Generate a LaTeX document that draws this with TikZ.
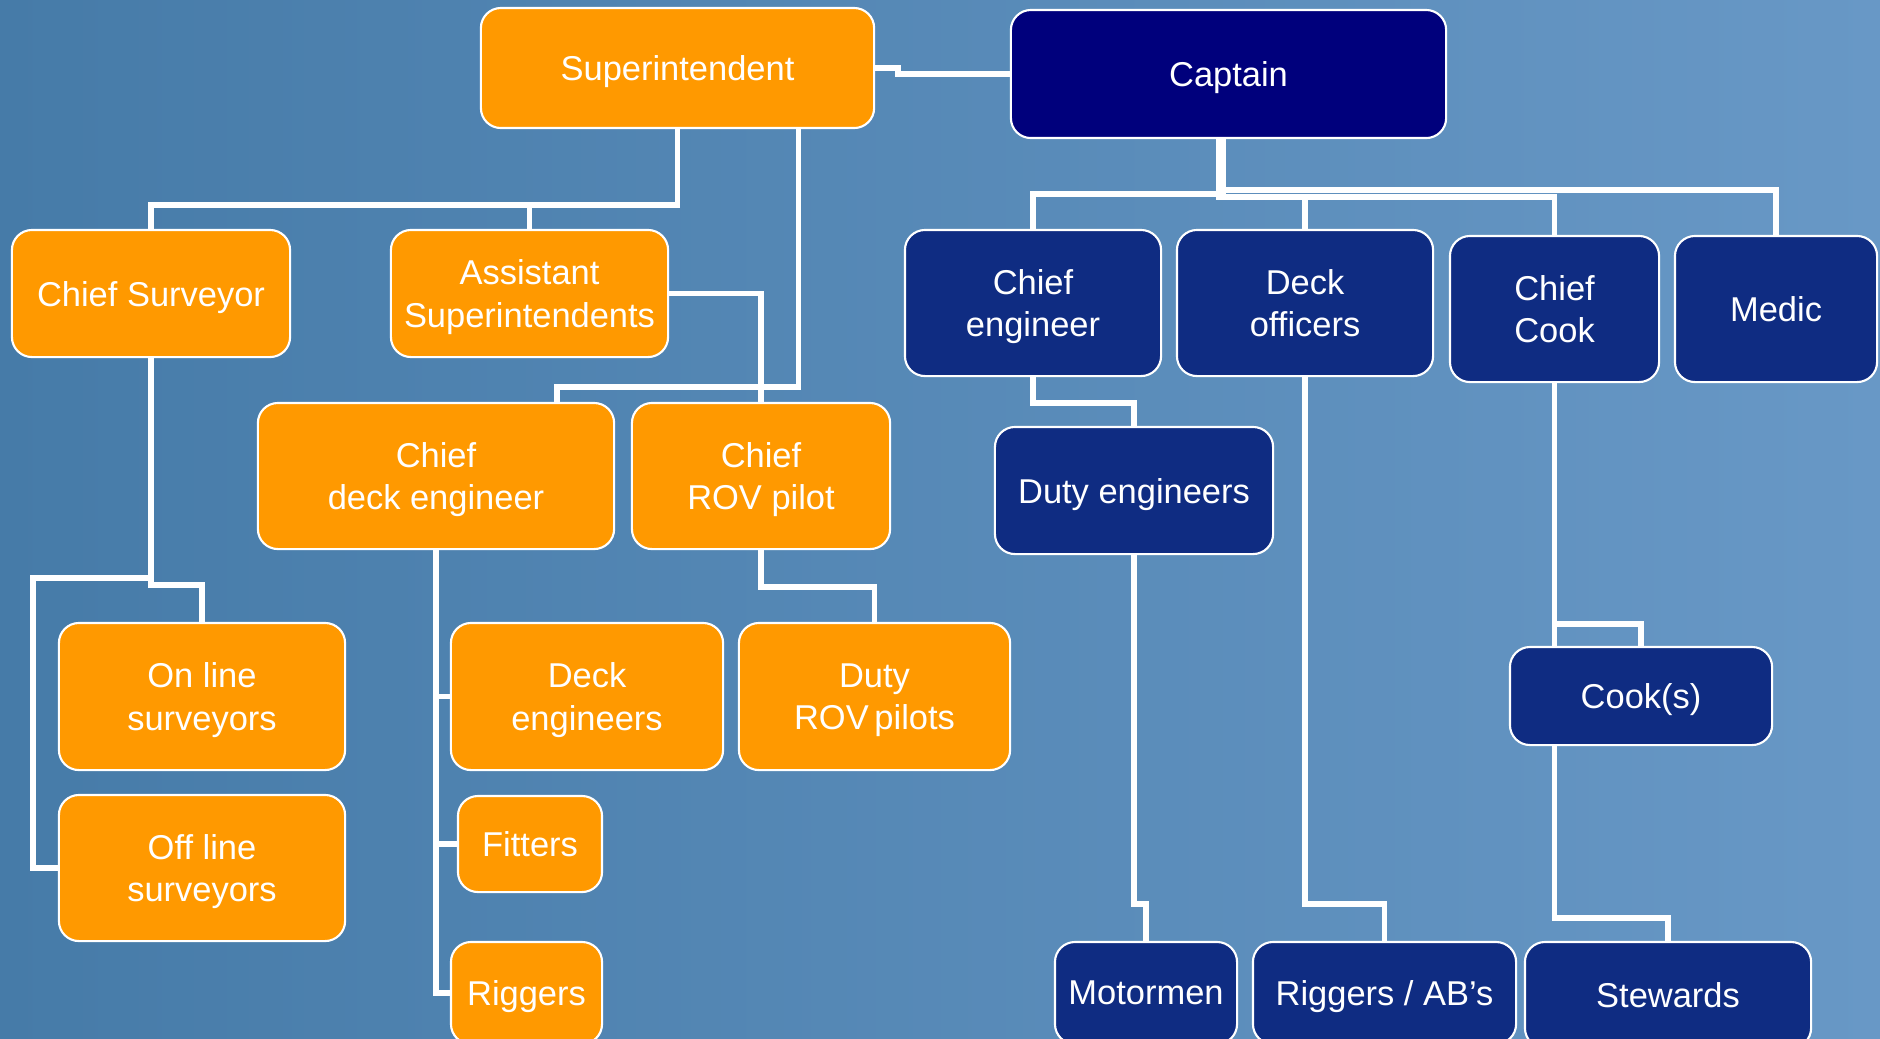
\documentclass[tikz,border=0pt]{standalone}
\usepackage{fontspec}
\setmainfont{Liberation Sans}
\usetikzlibrary{calc}
\definecolor{boxorange}{RGB}{255,153,0}
\definecolor{capnavy}{RGB}{0,0,124}
\definecolor{boxnavy}{RGB}{15,44,130}
\definecolor{seadark}{RGB}{70,123,168}
\definecolor{sealight}{RGB}{104,152,198}
\tikzset{
  post/.style={draw=white, line width=0.6pt, rounded corners=0.2cm, text=white,
    align=center, inner sep=0pt, text depth=-0.6pt, font=\fontsize{9.8}{12}\selectfont},
  shore/.style={post, fill=boxorange},
  crew/.style={post, fill=boxnavy},
  link/.style={draw=white, line width=1.6pt},
}

\begin{document}
\begin{tikzpicture}[x=0.01cm, y=-0.01cm]
\useasboundingbox (0,0) rectangle (1880,1038);
\clip (0,0) rectangle (1880,1038);
\shade[left color=seadark, right color=sealight] (0,0) rectangle (1880,1038);

% shore side
\node[shore, minimum width=3.93cm, minimum height=1.2cm] (sup) at (677.5,68) {Superintendent};
\node[shore, minimum width=2.78cm, minimum height=1.27cm] (cs) at (151,293.5) {Chief Surveyor};
\node[shore, minimum width=2.77cm, minimum height=1.27cm] (as) at (529.5,293.5) {Assistant\\Superintendents};
\node[shore, minimum width=3.56cm, minimum height=1.46cm] (cde) at (436,476) {Chief\\deck engineer};
\node[shore, minimum width=2.58cm, minimum height=1.46cm] (crp) at (761,476) {Chief\\ROV pilot};
\node[shore, minimum width=2.86cm, minimum height=1.47cm] (ons) at (202,696.5) {On line\\surveyors};
\node[shore, minimum width=2.86cm, minimum height=1.46cm] (ofs) at (202,868) {Off line\\surveyors};
\node[shore, minimum width=2.72cm, minimum height=1.47cm] (de) at (587,696.5) {Deck\\engineers};
\node[shore, minimum width=2.71cm, minimum height=1.47cm] (drp) at (874.5,696.5) {Duty\\ROV\,pilots};
\node[shore, minimum width=1.44cm, minimum height=0.96cm] (fit) at (530,844) {Fitters};
\node[shore, minimum width=1.51cm, minimum height=1.02cm] (rig) at (526.5,993) {Riggers};

% vessel side
\node[post, fill=capnavy, minimum width=4.35cm, minimum height=1.28cm] (cap) at (1228.5,74) {Captain};
\node[crew, minimum width=2.56cm, minimum height=1.46cm] (ce) at (1033,303) {Chief\\engineer};
\node[crew, minimum width=2.56cm, minimum height=1.46cm] (do) at (1305,303) {Deck\\officers};
\node[crew, minimum width=2.09cm, minimum height=1.46cm] (cc) at (1554.5,309) {Chief\\Cook};
\node[crew, minimum width=2.02cm, minimum height=1.46cm] (med) at (1776,309) {Medic};
\node[crew, minimum width=2.78cm, minimum height=1.27cm] (due) at (1134,490.5) {Duty engineers};
\node[crew, minimum width=2.62cm, minimum height=0.98cm] (cook) at (1641,696) {Cook(s)};
\node[crew, minimum width=1.82cm, minimum height=1.02cm] (mot) at (1146,993) {Motormen};
\node[crew, minimum width=2.63cm, minimum height=1.02cm] (rab) at (1384.5,993) {Riggers / AB’s};
\node[crew, minimum width=2.86cm, minimum height=1.06cm] (stw) at (1668,995) {Stewards};

% links
\draw[link] (sup.east) -- ++(23,0) |- (cap.west);
\draw[link] (sup.south) -- ++(0,76) -| (cs.north);
\draw[link] (sup.south) -- ++(0,76) -| (as.north);
\draw[link] ($(sup.south)+(121,0)$) -- ++(0,258) -| ($(cde.north)+(121,0)$);
\draw[link] (as.east) -| (crp.north);
\draw[link] (cs.south) -- ++(0,227) -| (ons.north);
\draw[link] (cs.south) -- ++(0,220) -- ++(-118,0) |- (ofs.west);
\draw[link] (cde.south) |- (de.west);
\draw[link] (cde.south) |- (fit.west);
\draw[link] (cde.south) |- (rig.west);
\draw[link] (crp.south) -- ++(0,37) -| (drp.north);

\draw[link] ($(cap.south)+(-5,0)$) -- ++(0,55) -| (ce.north);
\draw[link] ($(cap.south)+(-5,0)$) -- ++(0,51) -| (med.north);
\draw[link] ($(cap.south)+(-10,0)$) -- ++(0,58) -| (do.north);
\draw[link] ($(cap.south)+(-10,0)$) -- ++(0,58) -| (cc.north);
\draw[link] (ce.south) -- ++(0,26) -| (due.north);
\draw[link] (due.south) -- ++(0,349) -| (mot.north);
\draw[link] (do.south) -- ++(0,527) -| (rab.north);
\draw[link] (cc.south) -- ++(0,241) -| (cook.north);
\draw[link] (cc.south) -- (cc.south |- cook.north);
\draw[link] (cook.south -| cc.south) -- ++(0,172) -| (stw.north);
\end{tikzpicture}
\end{document}
